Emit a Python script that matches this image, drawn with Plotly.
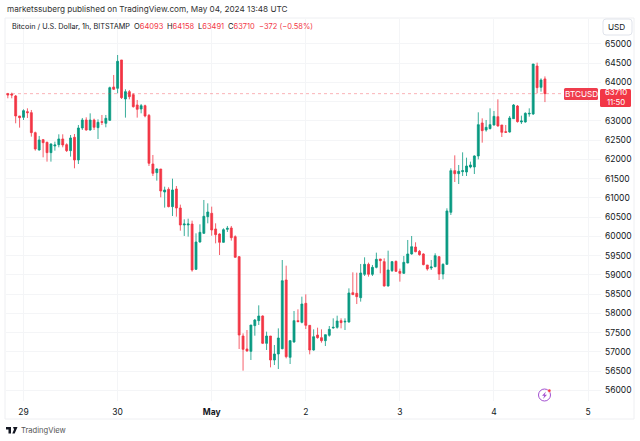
import pandas as pd
import plotly.graph_objects as go

# hourly candles, first one is Apr 28 20:00 UTC
start = '2024-04-28 20:00'

opens = [
    63710, 63701, 63649, 63130, 63095, 63243, 63217, 62697, 62247, 62515, 62446, 62178,
    62351, 62385, 62533, 62385, 62230, 62576, 61987, 62818, 63026, 62766, 63026, 62827,
    62983, 62940, 63017, 63883, 63849, 64585, 63572, 63762, 63684, 63416, 63312, 63398,
    63147, 61883, 61658, 61753, 61156, 61225, 60775, 61234, 60740, 60299, 60299, 60324,
    59147, 59857, 60082, 60515, 60602, 60195, 60065, 59848, 60186, 60221, 59995, 59476,
    57415, 57078, 57017, 57684, 57814, 57935, 57225, 57415, 56792, 56948, 57086, 58870,
    56861, 57259, 57814, 57770, 58264, 57692, 57052, 57441, 57372, 57294, 57433, 57623,
    57640, 57814, 57779, 57779, 58541, 58523, 58412, 59018, 59277, 59018, 59199, 59416,
    59347, 58715, 59113, 59355, 59095, 59043, 59312, 59546, 59727, 59615, 59546, 59260,
    59182, 59217, 59476, 59026, 59277, 60628, 61710, 61632, 61684, 61675, 61805, 61805,
    62091, 62948, 62766, 62801, 62896, 63112, 62896, 62723, 62714, 63060, 63389, 62974,
    62974, 63182, 63182, 64428, 63874, 64093,
]
highs = [
    63730, 63736, 63675, 63130, 63303, 63329, 63286, 62723, 62611, 62533, 62463, 62420,
    62463, 62654, 62654, 62420, 62636, 62662, 62896, 63078, 63095, 63199, 63061, 63043,
    63156, 63156, 63892, 64195, 64714, 64585, 63823, 63805, 63719, 63546, 63442, 63424,
    63182, 62117, 61770, 61753, 61294, 61277, 61502, 61311, 60827, 60446, 60463, 60411,
    60082, 60316, 60948, 60861, 60775, 60342, 60082, 60212, 60273, 60273, 60030, 59493,
    57484, 57571, 57701, 57857, 58212, 57952, 57528, 57415, 57181, 57614, 59389, 59242,
    57311, 58065, 58108, 58437, 58497, 57692, 57588, 57632, 57588, 57450, 57675, 57874,
    57943, 57874, 57874, 58653, 59069, 59060, 59286, 59459, 59321, 59260, 59580, 59416,
    59433, 59632, 59364, 59373, 59165, 59494, 59909, 60013, 59849, 59650, 59563, 59260,
    59390, 59563, 59494, 59303, 60732, 61771, 62108, 61857, 62186, 62047, 61944, 62108,
    63225, 63069, 63026, 63329, 63260, 63563, 62896, 62896, 63130, 63441, 63415, 63138,
    63225, 63329, 64480, 64515, 64108, 64158,
]
lows = [
    63590, 63589, 62940, 62827, 63026, 63078, 62593, 62230, 62230, 62056, 61944, 61944,
    62230, 62316, 62316, 62195, 62074, 61771, 61883, 62766, 62749, 62749, 62766, 62533,
    62896, 62836, 63000, 63805, 63719, 63572, 63087, 63563, 63346, 63087, 63199, 63095,
    61831, 61571, 61450, 61017, 60749, 60757, 60532, 60515, 60151, 60013, 59996, 59086,
    59130, 59840, 60065, 60342, 60021, 59822, 59519, 59840, 60117, 59892, 59450, 57078,
    56515, 57008, 56792, 57424, 57701, 57207, 57052, 56601, 56662, 56558, 57069, 56835,
    56688, 57242, 57779, 57744, 57597, 56939, 57034, 57346, 57242, 57155, 57398, 57606,
    57606, 57614, 57571, 57762, 58480, 58246, 58308, 58974, 58957, 58974, 59173, 59043,
    58697, 58697, 59078, 59078, 58827, 59026, 59303, 59528, 59589, 59502, 59251, 59113,
    59130, 59199, 58870, 58888, 59260, 60559, 61415, 61363, 61571, 61571, 61770, 61623,
    62004, 62437, 62723, 62783, 62879, 62853, 62584, 62697, 62697, 63052, 62957, 62922,
    62957, 63112, 63156, 63718, 63762, 63491,
]
closes = [
    63675, 63675, 63130, 63087, 63269, 63217, 62697, 62273, 62507, 62437, 62178, 62403,
    62377, 62533, 62377, 62230, 62559, 61987, 62818, 63026, 62766, 63026, 62836, 62965,
    62965, 63069, 63866, 63823, 64550, 63606, 63762, 63632, 63372, 63303, 63398, 63130,
    61901, 61640, 61753, 61182, 61208, 60775, 61208, 60740, 60299, 60324, 60324, 59130,
    59857, 60108, 60524, 60636, 60169, 60047, 59848, 60177, 60212, 59969, 59459, 57441,
    57069, 57026, 57701, 57831, 57935, 57225, 57415, 56792, 56948, 57363, 58852, 56878,
    57294, 57814, 57788, 58246, 57692, 57052, 57398, 57372, 57294, 57450, 57588, 57640,
    57805, 57762, 57796, 58532, 58489, 58437, 59052, 59277, 59018, 59199, 59407, 59373,
    58715, 59130, 59347, 59095, 59043, 59329, 59546, 59736, 59606, 59528, 59269, 59156,
    59208, 59502, 59026, 59277, 60663, 61710, 61632, 61693, 61710, 61831, 61857, 62091,
    62905, 62749, 62835, 62905, 63121, 62870, 62705, 62705, 63078, 63415, 62983, 63000,
    63199, 63199, 64480, 63866, 64065, 63710,
]

price_ticks = [56000, 56500, 57000, 57500, 58000, 58500, 59000, 59500, 60000, 60500,
               61000, 61500, 62000, 62500, 63000, 63500, 64000, 64500, 65000]
# 63500 sits behind the last price tag, so its text stays empty
price_labels = ['56000', '56500', '57000', '57500', '58000', '58500', '59000', '59500', '60000', '60500',
                '61000', '61500', '62000', '62500', '63000', '', '64000', '64500', '65000']
day_ticks = ['2024-04-29', '2024-04-30', '2024-05-01', '2024-05-02', '2024-05-03', '2024-05-04', '2024-05-05']
day_labels = ['29', '30', '<b>May</b>', '2', '3', '4', '5']

last_price = 63710
RED = '#f23645'
GREEN = '#089981'
PURPLE = '#a24fd0'
FONT = 'Inter'

# plot box inside the 640x441 page
W, H = 640, 441
L, R, T, B = 6, 601, 19, 401


def px(x):
    return (x - L) / (R - L)


def py(y):
    return (B - y) / (B - T)


def rounded(x0, y0, x1, y1, r):
    a, b, c, d = px(x0), px(x1), py(y0), py(y1)
    rx, ry = r / (R - L), r / (B - T)
    return (f'M {a + rx} {c} L {b - rx} {c} Q {b} {c} {b} {c - ry} L {b} {d + ry} Q {b} {d} {b - rx} {d} '
            f'L {a + rx} {d} Q {a} {d} {a} {d + ry} L {a} {c - ry} Q {a} {c} {a + rx} {c} Z')


def label(x, y, text, size=8.2, color='#131722', anchor='left'):
    return dict(xref='paper', yref='paper', x=px(x), y=py(y), text=text, showarrow=False,
                xanchor=anchor, yanchor='middle', borderpad=0,
                font=dict(family=FONT, size=size, color=color))


def ohlc(letter, value):
    return f'{letter}<span style="color:{RED}">{value}</span>'


times = pd.date_range(start, periods=len(opens), freq='h')

fig = go.Figure(go.Candlestick(
    x=times, open=opens, high=highs, low=lows, close=closes,
    increasing=dict(line=dict(color=GREEN, width=0.8), fillcolor=GREEN),
    decreasing=dict(line=dict(color=RED, width=0.8), fillcolor=RED),
    whiskerwidth=0,
))

annotations = [
    label(6, 9, 'marketssuberg published on TradingView.com, May 04, 2024 13:48 UTC', 8.2, '#333333'),
    label(10.5, 26, 'Bitcoin / U.S. Dollar, 1h, BITSTAMP', 7.3),
    label(133, 26, ohlc('O', 64093), 7.5),
    label(166, 26, ohlc('H', 64158), 7.5),
    label(197, 26, ohlc('L', 63491), 7.5),
    label(227, 26, ohlc('C', 63710), 7.5),
    label(258, 26, '\u2212372 (\u22120.58%)', 7.5, RED),
    label(20, 431, 'TradingView', 7.6, '#555555'),
    label(616, 27, 'USD', 8.2, anchor='center'),
    label(581, 94, 'BTCUSD', 8.2, 'white', 'center'),
    label(615.5, 97.5, '63710<br>11:50', 7.8, 'white', 'center'),
]

shapes = [
    # chart frame
    dict(type='rect', xref='paper', yref='paper', x0=px(5), x1=px(634), y0=py(18), y1=py(419),
         line=dict(color='#eeeff2', width=1), layer='below'),
    dict(type='line', xref='paper', yref='y', x0=0, x1=1, y0=last_price, y1=last_price,
         line=dict(color='rgba(242,54,69,0.55)', width=0.7, dash='dot')),
    dict(type='path', xref='paper', yref='paper', path=rounded(564, 88, 598, 100, 1.5),
         fillcolor='#ef3d4d', line=dict(width=0)),
    dict(type='path', xref='paper', yref='paper', path=rounded(600, 89, 631, 107, 1.5),
         fillcolor=RED, line=dict(width=0)),
    dict(type='path', xref='paper', yref='paper', path=rounded(603, 19, 632, 35, 3),
         fillcolor='white', line=dict(color='#e0e3eb', width=1)),
    # TradingView logo
    dict(type='path', xref='paper', yref='paper', fillcolor='#131722', line=dict(width=0),
         path=f'M {px(6)} {py(427)} L {px(11)} {py(427)} L {px(11)} {py(433.5)} L {px(8.5)} {py(433.5)} '
              f'L {px(8.5)} {py(429.5)} L {px(6)} {py(429.5)} Z'),
    dict(type='path', xref='paper', yref='paper', fillcolor='#131722', line=dict(width=0),
         path=f'M {px(13)} {py(427)} L {px(17.5)} {py(427)} L {px(14.7)} {py(433.5)} L {px(12.3)} {py(433.5)} '
              f'L {px(14)} {py(429.5)} Z'),
    # lightning badge
    dict(type='circle', xref='paper', yref='paper', x0=px(538.5), x1=px(550.5), y0=py(389), y1=py(401),
         line=dict(color=PURPLE, width=1)),
    dict(type='path', xref='paper', yref='paper', fillcolor=PURPLE, line=dict(width=0),
         path=f'M {px(546)} {py(391.5)} L {px(542)} {py(395.8)} L {px(544.3)} {py(395.8)} '
              f'L {px(543)} {py(399)} L {px(547)} {py(394.8)} L {px(544.7)} {py(394.8)} Z'),
    dict(type='circle', xref='paper', yref='paper', x0=px(547.6), x1=px(551), y0=py(389), y1=py(392.4),
         fillcolor=RED, line=dict(color='white', width=0.5)),
]

fig.update_layout(
    width=W, height=H,
    margin=dict(l=L, r=W - R, t=T, b=H - B),
    paper_bgcolor='white', plot_bgcolor='white',
    showlegend=False,
    font=dict(family=FONT, size=8.5, color='#131722'),
    annotations=annotations,
    shapes=shapes,
)
fig.update_xaxes(
    type='date', range=['2024-04-28 19:32', '2024-05-05 03:18'],
    rangeslider_visible=False,
    tickmode='array', tickvals=day_ticks, ticktext=day_labels,
    showgrid=True, gridcolor='#f4f5f7', gridwidth=1, zeroline=False, ticks='', showline=False,
    tickangle=0, ticklabelstandoff=4,
)
fig.update_yaxes(
    range=[55727, 65649], side='right',
    tickmode='array', tickvals=price_ticks, ticktext=price_labels,
    showgrid=True, gridcolor='#f4f5f7', gridwidth=1, zeroline=False, ticks='', showline=False,
    ticklabelstandoff=3,
)

fig.write_html('out.html', post_script="document.body.style.margin='0';",
               config=dict(displayModeBar=False))
